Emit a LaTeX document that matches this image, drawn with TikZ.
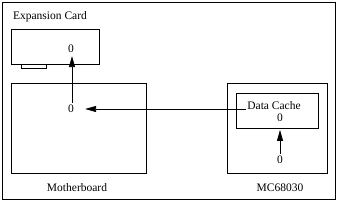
\documentclass[tikz,border=0pt]{standalone}
\usepackage{fontspec}
\setmainfont{Liberation Serif}
\usepackage{tikz}
\usetikzlibrary{positioning,arrows.meta}

\begin{document}
\begin{tikzpicture}[
  x=1pt, y=-1pt,
  every node/.style={font=\fontsize{11.5}{13}\selectfont, inner sep=1pt},
  board/.style={draw, thick, minimum width=#1, inner sep=0pt},
  lbl/.style={anchor=center},
  arr/.style={-{Triangle[length=11pt,width=6pt]}, thick}
]
  \useasboundingbox (0,0) rectangle (352,201);
  \draw[thick] (2,2) rectangle (335,199);

  % --- Expansion card ---
  \node[lbl] (cardlabel) at (50,17) {Expansion Card};
  \node[board=88pt, minimum height=35pt] (card) at (55,46.5) {};
  \draw[thick] (21,64) rectangle (46,68);
  \node[lbl] (card0) at (71,49) {0};

  % --- Motherboard ---
  \node[board=135pt, minimum height=90pt] (mb) at (78.5,128) {};
  \node[lbl] (mb0) at (71,109) {0};
  \node[lbl] (mblabel) at (77,188) {Motherboard};

  % --- MC68030 ---
  \node[board=100pt, minimum height=90pt] (cpu) at (277,128) {};
  \node[board=82pt, minimum height=35pt] (dcache) at (277,110.5) {};
  \node[lbl] (dclabel) at (274,106) {Data Cache};
  \node[lbl] (dc0) at (280,118) {0};
  \node[lbl] (cpu0) at (280,160) {0};
  \node[lbl] (cpulabel) at (280,188) {MC68030};

  % --- Transfers ---
  \draw[arr] (mb0.north -| card0.south) ++(1,-1) -- ([xshift=1pt,yshift=-2pt]card0.south);
  \draw[arr] (dclabel.west |- mb0) -- ([xshift=10pt]mb0.east);
  \draw[arr] (cpu0.north) ++(0,-1) -- ([yshift=-1.5pt]dcache.south -| cpu0);
\end{tikzpicture}
\end{document}
